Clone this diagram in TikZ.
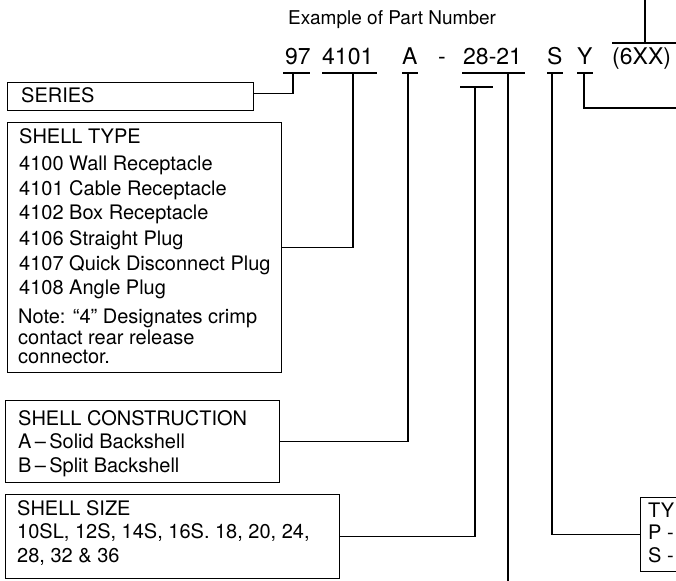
\documentclass[tikz,border=0pt]{standalone}
\usepackage{fontspec}
\setmainfont{TeX Gyre Heros}
\begin{document}
\begin{tikzpicture}[x=1pt,y=-1pt,
  lbl/.style={font=\fontsize{20}{24}\selectfont, inner sep=0pt, anchor=base west},
  pn/.style={font=\fontsize{23}{27}\selectfont, inner sep=0pt, anchor=base west},
  ex/.style={font=\fontsize{19}{23}\selectfont, inner sep=0pt, anchor=base west},
  box/.style={draw, line width=1.4pt, inner sep=0pt, anchor=north west},
  ln/.style={line width=1.2pt}]
\useasboundingbox (0,0) rectangle (676,580);
\clip (0,0) rectangle (676,580);

% title and part number
\node[ex] (title) at (288,25) {Example of Part Number};
\node[pn] (p97)   at (285,65) {97};
\node[pn] (p4101) at (322,65) {4101};
\node[pn] (pA)    at (402,65) {A};
\node[pn] (pdash) at (438,65) {-};
\node[pn] (p2821) at (463,65) {28-21};
\node[pn] (pS)    at (547,65) {S};
\node[pn] (pY)    at (577,65) {Y};
\node[pn] (p6xx)  at (612,65) {(6XX)};

% boxes
\node[box, minimum width=246pt, minimum height=28pt]  (series) at (7,82) {};
\node[box, minimum width=274pt, minimum height=250pt] (stype)  at (7,122) {};
\node[box, minimum width=274pt, minimum height=82pt]  (scons)  at (5,400) {};
\node[box, minimum width=334pt, minimum height=84pt]  (ssize)  at (5,494) {};
\node[box, minimum width=70pt,  minimum height=74pt]  (ptype)  at (640,497) {};

% box texts
\node[lbl] (tser) at (21,103) {SERIES};
\node[lbl] (tst0) at (19,144) {SHELL TYPE};
\node[lbl] (tst1) at (19,170) {4100 Wall Receptacle};
\node[lbl] (tst2) at (19,195) {4101 Cable Receptacle};
\node[lbl] (tst3) at (19,219) {4102 Box Receptacle};
\node[lbl] (tst4) at (19,245) {4106 Straight Plug};
\node[lbl] (tst5) at (19,270) {4107 Quick Disconnect Plug};
\node[lbl] (tst6) at (19,294) {4108 Angle Plug};
\node[lbl] (tst7) at (18,323) {Note: “4” Designates crimp};
\node[lbl] (tst8) at (18,344) {contact rear release};
\node[lbl] (tst9) at (18,363) {connector.};
\node[lbl] (tsc0) at (18,425) {SHELL CONSTRUCTION};
\node[lbl] (tsc1) at (18,448) {A\,–\,Solid Backshell};
\node[lbl] (tsc2) at (18,472) {B\,–\,Split Backshell};
\node[lbl] (tss0) at (17,515) {SHELL SIZE};
\node[lbl] (tss1) at (17,538) {10SL, 12S, 14S, 16S. 18, 20, 24,};
\node[lbl] (tss2) at (17,562) {28, 32 \& 36};
\node[lbl] (tpt0) at (648,517) {TY};
\node[lbl] (tpt1) at (648,539) {P -};
\node[lbl] (tpt2) at (648,562) {S -};

% connector points
\coordinate (c97)   at (293,73);
\coordinate (c4101) at (353,73);
\coordinate (cA)    at (408,73);
\coordinate (c28)   at (475,87);
\coordinate (c21)   at (508,73);
\coordinate (cS)    at (552,73);
\coordinate (cY)    at (584,73);
\coordinate (cX)    at (645,43);
\coordinate (eY)    at (690,108);
\coordinate (e21)   at (508,590);
\coordinate (eX)    at (645,-5);

% underlines
\draw[ln] (283,73) -- (310,73);
\draw[ln] (p4101.west |- c4101) -- (377,73);
\draw[ln] (pA.west |- cA) -- (pA.east |- cA);
\draw[ln] (462,73) -- (525,73);
\draw[ln] (460,87) -- (493,87);
\draw[ln] (pS.west |- cS) -- (pS.east |- cS);
\draw[ln] (pY.west |- cY) -- (pY.east |- cY);
\draw[ln] (p6xx.west |- cX) -- (690,43);

% connectors
\draw[ln] (c97) |- ([yshift=3pt]series.east);
\draw[ln] (c4101) |- (stype.east);
\draw[ln] (cA) |- (scons.east);
\draw[ln] (c28) |- (ssize.east);
\draw[ln] (c21) -- (e21);
\draw[ln] (cS) |- (ptype.west);
\draw[ln] (cY) |- (eY);
\draw[ln] (cX) -- (eX);
\end{tikzpicture}
\end{document}
